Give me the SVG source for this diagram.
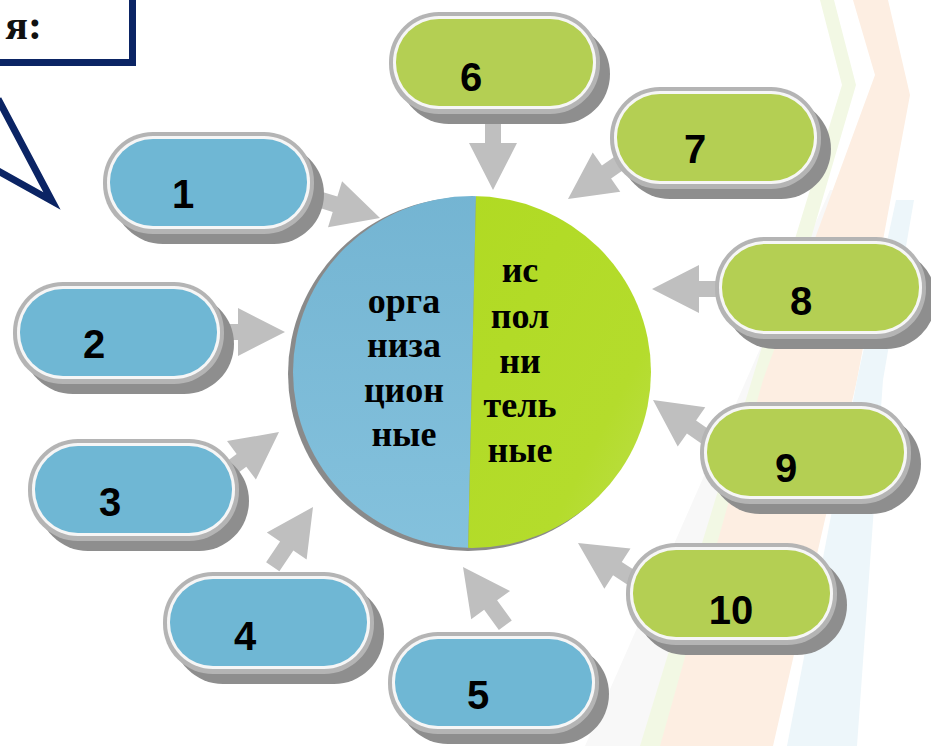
<svg xmlns="http://www.w3.org/2000/svg" width="931" height="746" viewBox="0 0 931 746">
<style>
.bg{stroke:none}
.shadow{fill:#8e8e8e}
.border{fill:#b4b4b4}
.ring{fill:#f6f6f6}
.blue{fill:#6fb7d4}
.green{fill:#b4cf53}
.num{font-family:"Liberation Sans",Arial,sans-serif;font-weight:bold;font-size:40px;fill:#000;text-anchor:middle}
.ctext{font-family:"Liberation Serif","Times New Roman",serif;font-weight:bold;font-size:36px;fill:#000;text-anchor:middle}
.arrow{fill:#bfbfbf}
.navy{fill:none;stroke:#0b2464;stroke-width:7}
</style>
<defs>
<path id="arr" d="M0,0 L-47,-24 L-47,-8 L-72,-8 L-72,8 L-47,8 L-47,24 Z"/>
<linearGradient id="gBlue" x1="0" y1="0" x2="0" y2="1">
<stop offset="0" stop-color="#72b3d1"/>
<stop offset="1" stop-color="#86c3de"/>
</linearGradient>
<linearGradient id="gGreen" x1="0" y1="0" x2="1" y2="1">
<stop offset="0" stop-color="#b0da22"/>
<stop offset="0.6" stop-color="#b4dc2c"/>
<stop offset="1" stop-color="#c4e164"/>
</linearGradient>
<clipPath id="circ"><ellipse cx="472" cy="372" rx="179" ry="176"/></clipPath>
</defs>
<rect width="931" height="746" fill="#ffffff"/>
<g id="background">
<polygon class="bg" fill="#f8f8f8" points="830,190 860,190 700,746 585,746"/>
<polygon class="bg" fill="#f2f8e4" points="820,0 834,0 856,85 662,746 640,746 842,85"/>
<polygon class="bg" fill="#fdeee2" points="853,0 888,0 910,95 857,380 773,746 660,746 763,380 875,75"/>
<polygon class="bg" fill="#edf6fa" points="896,200 914,200 883,380 857,746 787,746 857,380"/>
</g>
<g id="callout">
<rect class="navy" x="-20" y="-20" width="152.5" height="82.5" fill="#ffffff"/>
<text x="42" y="39" text-anchor="end" font-family="Liberation Serif,'Times New Roman',serif" font-weight="bold" font-size="42" fill="#111">я:</text>
<polyline class="navy" stroke-width="6" points="-2,99 52,201 -2,171"/>
</g>
<g id="connectors">
<use href="#arr" class="arrow" transform="translate(380,218) rotate(17)"/>
<use href="#arr" class="arrow" transform="translate(285,332)"/>
<use href="#arr" class="arrow" transform="translate(279,432) rotate(-37)"/>
<use href="#arr" class="arrow" transform="translate(313,507) rotate(-56)"/>
<use href="#arr" class="arrow" transform="translate(463,567) rotate(-126)"/>
<use href="#arr" class="arrow" transform="translate(493,190) rotate(90)"/>
<use href="#arr" class="arrow" transform="translate(568,199) rotate(145)"/>
<use href="#arr" class="arrow" transform="translate(652,289) rotate(180)"/>
<use href="#arr" class="arrow" transform="translate(653,400) rotate(-145)"/>
<use href="#arr" class="arrow" transform="translate(578,543) rotate(-147)"/>
</g>
<g id="center">
<ellipse cx="468" cy="374" rx="180" ry="177" fill="#8a8a8a"/>
<g clip-path="url(#circ)">
<polygon points="200,150 477,150 467,600 200,600" fill="url(#gBlue)"/>
<polygon points="477,150 700,150 700,600 467,600" fill="url(#gGreen)"/>
</g>
<text class="ctext" x="404" y="313">орга</text>
<text class="ctext" x="404" y="357">низа</text>
<text class="ctext" x="404" y="402">цион</text>
<text class="ctext" x="404" y="446">ные</text>
<text class="ctext" x="520" y="282">ис</text>
<text class="ctext" x="520" y="328">пол</text>
<text class="ctext" x="520" y="373">ни</text>
<text class="ctext" x="520" y="417">тель</text>
<text class="ctext" x="520" y="462">ные</text>
</g>
<g id="node1">
<rect class="shadow" x="113" y="144" width="211" height="100" rx="50"/>
<rect class="border" x="103" y="132" width="211" height="102" rx="50"/>
<rect class="ring" x="107" y="136" width="203" height="93" rx="46"/>
<rect class="blue" x="110" y="139" width="197" height="87" rx="43"/>
<text class="num" x="183" y="208">1</text>
</g>
<g id="node2">
<rect class="shadow" x="23" y="294" width="211" height="100" rx="50"/>
<rect class="border" x="13" y="282" width="211" height="102" rx="50"/>
<rect class="ring" x="17" y="286" width="203" height="93" rx="46"/>
<rect class="blue" x="20" y="289" width="197" height="87" rx="43"/>
<text class="num" x="94" y="358">2</text>
</g>
<g id="node3">
<rect class="shadow" x="38" y="451" width="211" height="100" rx="50"/>
<rect class="border" x="28" y="439" width="211" height="102" rx="50"/>
<rect class="ring" x="32" y="443" width="203" height="93" rx="46"/>
<rect class="blue" x="35" y="446" width="197" height="87" rx="43"/>
<text class="num" x="110" y="516">3</text>
</g>
<g id="node4">
<rect class="shadow" x="173" y="584" width="211" height="100" rx="50"/>
<rect class="border" x="163" y="572" width="211" height="102" rx="50"/>
<rect class="ring" x="167" y="576" width="203" height="93" rx="46"/>
<rect class="blue" x="170" y="579" width="197" height="87" rx="43"/>
<text class="num" x="245" y="650">4</text>
</g>
<g id="node5">
<rect class="shadow" x="398" y="644" width="211" height="100" rx="50"/>
<rect class="border" x="388" y="632" width="211" height="102" rx="50"/>
<rect class="ring" x="392" y="636" width="203" height="93" rx="46"/>
<rect class="blue" x="395" y="639" width="197" height="87" rx="43"/>
<text class="num" x="478" y="709">5</text>
</g>
<g id="node6">
<rect class="shadow" x="399" y="24" width="211" height="100" rx="50"/>
<rect class="border" x="389" y="12" width="211" height="102" rx="50"/>
<rect class="ring" x="393" y="16" width="203" height="93" rx="46"/>
<rect class="green" x="396" y="19" width="197" height="87" rx="43"/>
<text class="num" x="471" y="91">6</text>
</g>
<g id="node7">
<rect class="shadow" x="620" y="99" width="211" height="100" rx="50"/>
<rect class="border" x="610" y="87" width="211" height="102" rx="50"/>
<rect class="ring" x="614" y="91" width="203" height="93" rx="46"/>
<rect class="green" x="617" y="94" width="197" height="87" rx="43"/>
<text class="num" x="695" y="163">7</text>
</g>
<g id="node8">
<rect class="shadow" x="725" y="249" width="211" height="100" rx="50"/>
<rect class="border" x="715" y="237" width="211" height="102" rx="50"/>
<rect class="ring" x="719" y="241" width="203" height="93" rx="46"/>
<rect class="green" x="722" y="244" width="197" height="87" rx="43"/>
<text class="num" x="801" y="315">8</text>
</g>
<g id="node9">
<rect class="shadow" x="710" y="414" width="211" height="100" rx="50"/>
<rect class="border" x="700" y="402" width="211" height="102" rx="50"/>
<rect class="ring" x="704" y="406" width="203" height="93" rx="46"/>
<rect class="green" x="707" y="409" width="197" height="87" rx="43"/>
<text class="num" x="786" y="482">9</text>
</g>
<g id="node10">
<rect class="shadow" x="636" y="555" width="211" height="100" rx="50"/>
<rect class="border" x="626" y="543" width="211" height="102" rx="50"/>
<rect class="ring" x="630" y="547" width="203" height="93" rx="46"/>
<rect class="green" x="633" y="550" width="197" height="87" rx="43"/>
<text class="num" x="731" y="624">10</text>
</g>
</svg>
